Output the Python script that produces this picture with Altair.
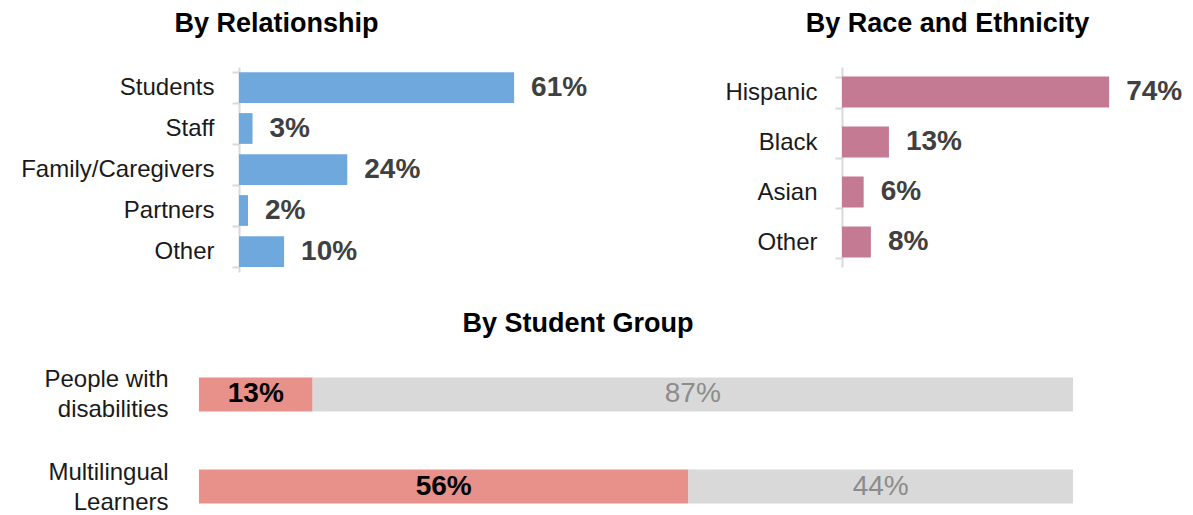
import altair as alt
import pandas as pd

# ---- data ----
rel_categories = ["Students", "Staff", "Family/Caregivers", "Partners", "Other"]
rel_values = [61, 3, 24, 2, 10]

race_categories = ["Hispanic", "Black", "Asian", "Other"]
race_values = [74, 13, 6, 8]

group_categories = ["People with disabilities", "Multilingual Learners"]
group_share = [13, 56]
group_rest = [87, 44]
segments = ["In group", "Not in group"]

FONT = "Liberation Sans"
TITLE_KW = dict(titleFont=FONT, titleFontSize=27, titleFontWeight="bold",
                titleColor="#000000", titleAlign="center", titleBaseline="alphabetic",
                titleAngle=0)

rel_df = pd.DataFrame({"category": rel_categories, "value": rel_values})
race_df = pd.DataFrame({"category": race_categories, "value": race_values})
grp_rows = []
for c, a, b in zip(group_categories, group_share, group_rest):
    grp_rows.append({"category": c, "segment": segments[0], "value": a, "order": 0})
    grp_rows.append({"category": c, "segment": segments[1], "value": b, "order": 1})
grp_df = pd.DataFrame(grp_rows)

TOP_W, TOP_H = 945, 205


def panel_layers(df, cats, color, x_range, px_per_pct, y_range, pad_inner,
                 axis_offset, title, title_x):
    y_axis = alt.Axis(
        title=None, orient="left", offset=axis_offset, labelFont=FONT,
        labelFontSize=24, labelColor="#1a1a1a", labelPadding=18, labelLimit=0,
        tickBand="extent", tickSize=7, tickColor="#d9d9d9", tickWidth=2,
        domainColor="#d9d9d9", domainWidth=2, grid=False,
    )
    x_axis = alt.Axis(
        orient="top", labels=False, ticks=False, domain=False, grid=False,
        title=title, titleX=title_x, titleY=-36, **TITLE_KW,
    )
    y_scale = alt.Scale(domain=cats, range=y_range, paddingInner=pad_inner,
                        paddingOuter=pad_inner / 2)
    span = x_range[1] - x_range[0]
    x_scale = alt.Scale(domain=[0, span / px_per_pct], range=x_range,
                        nice=False, zero=True)
    bars = alt.Chart(df).mark_bar(color=color).encode(
        y=alt.Y("category:N", sort=cats, scale=y_scale, axis=y_axis),
        x=alt.X("value:Q", scale=x_scale, axis=x_axis),
    )
    labels = alt.Chart(df).transform_calculate(label="datum.value + '%'").mark_text(
        align="left", baseline="middle", dx=17, font=FONT, fontSize=28,
        fontWeight="bold", color="#404040",
    ).encode(
        y=alt.Y("category:N", sort=cats, scale=y_scale, axis=None),
        x=alt.X("value:Q", scale=x_scale, axis=None),
        text="label:N",
    )
    return [bars, labels]


layers = panel_layers(rel_df, rel_categories, "#6FA8DC", [0, 340], 4.51,
                      [0, 205], 0.25, 0, "By Relationship", 37)
layers += panel_layers(race_df, race_categories, "#C47A92", [603, 945], 3.61,
                       [0, 200], 0.38, -603, "By Race and Ethnicity", 708)
top = alt.layer(*layers).resolve_scale(x="independent", y="independent").properties(
    width=TOP_W, height=TOP_H
)

label_expr = ("datum.label == 'People with disabilities' ? ['People with', 'disabilities']"
              " : ['Multilingual', 'Learners']")
gy = alt.Y("category:N", sort=group_categories,
           scale=alt.Scale(paddingInner=0.63, paddingOuter=0.2),
           axis=alt.Axis(title=None, domain=False, ticks=False, labelFont=FONT,
                         labelFontSize=24, labelColor="#1a1a1a", labelPadding=71,
                         labelLimit=0, labelExpr=label_expr, labelLineHeight=30,
                         labelOffset=-14))
gbase = alt.Chart(grp_df).transform_stack(
    stack="value", groupby=["category"], as_=["x0", "x1"],
    sort=[alt.SortField("order", order="ascending")],
).transform_calculate(mid="(datum.x0 + datum.x1) / 2", label="datum.value + '%'")
xscale = alt.Scale(domain=[0, 100], range=[-40, 834], nice=False)
gbars = gbase.mark_bar().encode(
    y=gy,
    x=alt.X("x0:Q", scale=xscale, axis=None),
    x2="x1:Q",
    color=alt.Color("segment:N", scale=alt.Scale(domain=segments,
                                                 range=["#E8908A", "#D9D9D9"]),
                    legend=None),
)
gtext1 = gbase.transform_filter(alt.datum.order == 0).mark_text(
    font=FONT, fontSize=28, fontWeight="bold", color="#000000",
    align="center", baseline="middle",
).encode(y=gy, x=alt.X("mid:Q", scale=xscale, axis=None), text="label:N")
gtext2 = gbase.transform_filter(alt.datum.order == 1).mark_text(
    font=FONT, fontSize=28, color="#8c8c8c", align="center", baseline="middle",
).encode(y=gy, x=alt.X("mid:Q", scale=xscale, axis=None), text="label:N")

p3 = (gbars + gtext1 + gtext2).properties(
    width=834, height=163,
    title=alt.TitleParams("By Student Group", font=FONT, fontSize=27,
                          fontWeight="bold", color="#000000", anchor="middle",
                          dx=-78, offset=21),
)

chart = alt.vconcat(top, p3, spacing=87, bounds="flush").properties(
    padding={"left": 12, "top": 1, "right": 0, "bottom": 0},
    background="white",
).configure_view(strokeWidth=0, stroke="transparent")

chart.save("out.html", embed_options={"renderer": "svg", "actions": False})
